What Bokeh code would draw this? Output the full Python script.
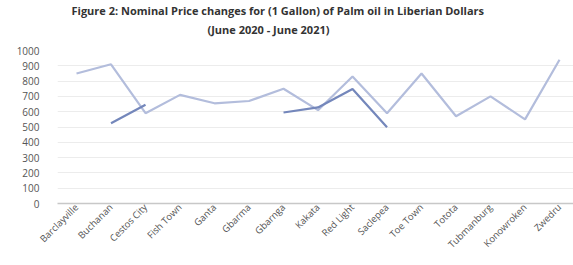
import math
from bokeh.plotting import figure
from bokeh.models import Range1d, FixedTicker, Title, ColumnDataSource
from bokeh.embed import file_html
from bokeh.resources import INLINE

towns = ["Barclayville", "Buchanan", "Cestos City", "Fish Town", "Ganta", "Gbarma",
         "Gbarnga", "Kakata", "Red Light", "Saclepea", "Toe Town", "Totota",
         "Tubmanburg", "Konowroken", "Zwedru"]
price_2020 = [850, 910, 590, 710, 655, 670, 750, 610, 830, 590, 850, 570, 700, 550, 940]
price_2021 = [float("nan"), 525, 645, float("nan"), float("nan"), float("nan"),
              595, 628, 748, 498, float("nan"), float("nan"), float("nan"),
              float("nan"), float("nan")]
y_ticks = list(range(0, 1001, 100))

xs = list(range(len(towns)))

p = figure(width=573, height=265, output_backend="svg", toolbar_location=None,
           x_range=Range1d(-0.551, 14.405), y_range=Range1d(0, 1000),
           min_border_left=57, min_border_right=0, min_border_bottom=62, min_border_top=0)

p.add_layout(Title(text=" ", text_font_size="8px", standoff=0), "above")
p.add_layout(Title(text="(June 2020 - June 2021)", align="left", offset=150,
                   text_font="Open Sans", text_font_size="11px", text_font_style="bold",
                   text_color="#333333", standoff=5), "above")
p.add_layout(Title(text="Figure 2: Nominal Price changes for (1 Gallon) of Palm oil in Liberian Dollars",
                   align="left", offset=14,
                   text_font="Open Sans", text_font_size="11px", text_font_style="bold",
                   text_color="#333333", standoff=0), "above")

src = ColumnDataSource(dict(x=xs, a=price_2020, b=price_2021))
p.line("x", "a", source=src, line_color="#b3bddc", line_width=2.2)
p.line("x", "b", source=src, line_color="#7487bb", line_width=2.2)

p.outline_line_color = None
p.xgrid.grid_line_color = None
p.ygrid.grid_line_color = "#ececec"
p.ygrid.ticker = FixedTicker(ticks=y_ticks)

p.yaxis.ticker = FixedTicker(ticks=y_ticks)
p.yaxis.axis_line_color = None
p.yaxis.major_tick_line_color = None
p.yaxis.minor_tick_line_color = None
p.yaxis.major_label_text_font = "Open Sans"
p.yaxis.major_label_text_font_size = "10px"
p.yaxis.major_label_text_color = "#555555"
p.yaxis.major_label_standoff = 12

p.xaxis.ticker = FixedTicker(ticks=xs)
p.xaxis.major_label_overrides = {i: t for i, t in enumerate(towns)}
p.xaxis.major_label_orientation = math.pi / 4
p.xaxis.axis_line_color = "#c8c8c8"
p.xaxis.axis_line_width = 1.5
p.xaxis.major_tick_line_color = None
p.xaxis.major_tick_out = 0
p.xaxis.major_tick_in = 0
p.xaxis.minor_tick_line_color = None
p.xaxis.major_label_text_font = "Open Sans"
p.xaxis.major_label_text_font_size = "9.5px"
p.xaxis.major_label_text_color = "#555555"
p.xaxis.major_label_standoff = 2

open("out.html", "w").write(file_html(p, INLINE))
